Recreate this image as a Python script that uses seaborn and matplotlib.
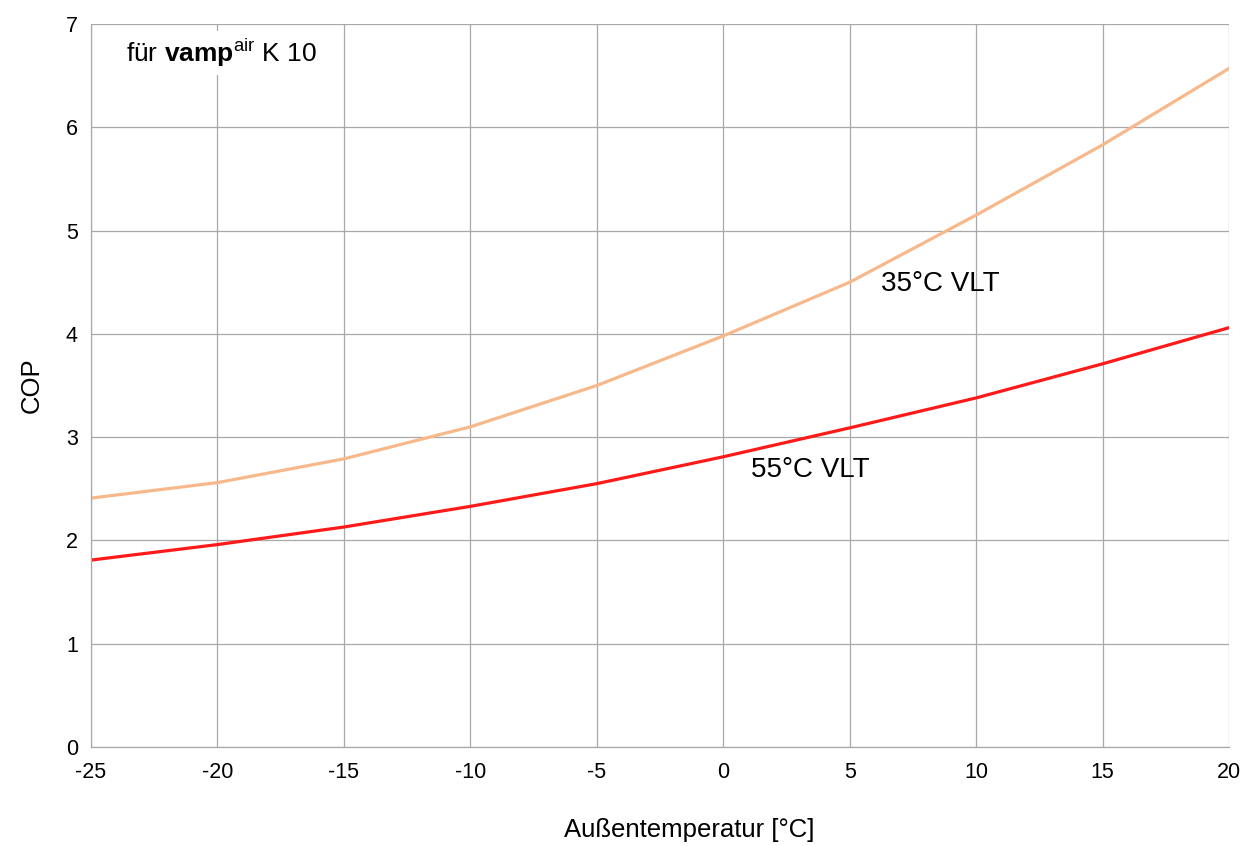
import matplotlib
matplotlib.use("Agg")
import matplotlib.pyplot as plt
import seaborn as sns
import pandas as pd

# Außentemperatur in °C
temps = [-25, -20, -15, -10, -5, 0, 5, 10, 15, 20]
# COP bei 35°C und 55°C Vorlauftemperatur
cop_35 = [2.41, 2.56, 2.79, 3.10, 3.50, 3.98, 4.50, 5.15, 5.83, 6.57]
cop_55 = [1.81, 1.96, 2.13, 2.33, 2.55, 2.81, 3.09, 3.38, 3.71, 4.06]
series = ["35°C VLT", "55°C VLT"]
x_ticks = [-25, -20, -15, -10, -5, 0, 5, 10, 15, 20]
y_ticks = [0, 1, 2, 3, 4, 5, 6, 7]

df = pd.DataFrame({
    "temp": temps * 2,
    "cop": cop_35 + cop_55,
    "serie": [series[0]] * len(temps) + [series[1]] * len(temps),
})

sns.set_theme(style="white")
plt.rcParams["font.family"] = ["Liberation Sans", "DejaVu Sans"]
plt.rcParams["mathtext.fontset"] = "custom"
plt.rcParams["mathtext.rm"] = "Liberation Sans"
plt.rcParams["mathtext.bf"] = "Liberation Sans:bold"
plt.rcParams["axes.unicode_minus"] = False
plt.rcParams["text.color"] = "black"
plt.rcParams["axes.labelcolor"] = "black"

fig = plt.figure(figsize=(12.5, 8.46), dpi=100)
ax = fig.add_axes([0.0728, 0.117, 0.9104, 0.8546])

sns.lineplot(data=df, x="temp", y="cop", hue="serie",
             palette={series[0]: "#f7b98b", series[1]: "#ff1a1a"},
             linewidth=2.3, legend=False, ax=ax)

ax.set_xlim(-25, 20)
ax.set_ylim(0, 7)
ax.set_xticks(x_ticks)
ax.set_yticks(y_ticks)
ax.grid(True, color="#a8a8a8", linewidth=0.9)
ax.set_axisbelow(True)
for s in ["top", "right"]:
    ax.spines[s].set_visible(False)
for s in ["left", "bottom"]:
    ax.spines[s].set_color("#a8a8a8")
    ax.spines[s].set_linewidth(0.9)
ax.tick_params(axis="both", labelsize=15.5, colors="#a8a8a8", labelcolor="black",
               length=6, width=0.9, direction="out")
ax.tick_params(axis="x", pad=5)

ax.set_xlabel("Außentemperatur [°C]", fontsize=18.5)
ax.xaxis.set_label_coords(0.526, -0.098)
ax.set_ylabel("COP", fontsize=18.5, labelpad=16)

ax.text(-23.6, 6.72, r"für $\mathbf{vamp}^{\mathrm{air}}$ K 10", fontsize=19,
        va="center", ha="left",
        bbox=dict(facecolor="white", edgecolor="none", pad=4))
ax.text(6.25, 4.48, series[0], fontsize=20, va="center", ha="left")
ax.text(1.1, 2.68, series[1], fontsize=20, va="center", ha="left")

fig.savefig("out.png", dpi=100)
